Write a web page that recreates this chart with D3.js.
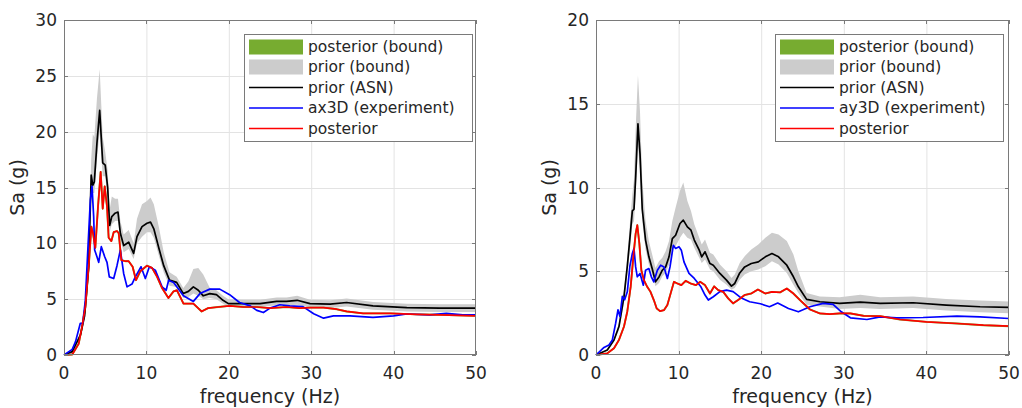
<!DOCTYPE html>
<html><head><meta charset="utf-8">
<script src="https://cdn.jsdelivr.net/npm/d3@7"></script>
<style>html,body{margin:0;padding:0;background:#fff;}svg{display:block;}</style>
</head><body>
<svg id="chart" width="1022" height="408"></svg>
<script>
// ---------- Left panel (x direction) ----------
const freqPriorL = [0,1,2,2.5,3,3.3,3.5,3.68,4.0,4.33,4.7,5.0,5.3,5.54,5.8,6.2,6.55,6.84,7.24,7.85,8.45,8.86,9.47,10.07,10.5,10.9,11.5,12.1,12.8,13.67,14.48,15.1,15.7,16.3,16.9,17.7,18.5,19.3,19.95,21.8,23.8,25.8,27.0,28.3,29.85,32.3,34.3,37.5,41.6,45.6,50];
const priorL   = [0,0.3,1.8,3.5,8,16.1,15.2,15.5,19,21.9,17.2,17.0,15,11.6,12.4,12.7,12.8,10.9,9.8,10.1,9.1,10.6,11.5,11.8,11.9,11.3,9.6,8.0,6.7,6.5,5.5,5.7,6.1,5.8,5.3,5.5,5.4,4.9,4.6,4.6,4.6,4.8,4.8,4.9,4.6,4.56,4.7,4.4,4.24,4.2,4.2];
const priorLoL = [0,0.25,1.6,3.2,7.2,15,14.5,14.5,17.5,20,16,16,14,11,11.7,12,12,10.3,9.2,9.5,8.6,10,10.6,11,11,10.5,8.9,7.4,6.2,6.1,5.1,5.2,5.5,5.3,5.0,5.1,5.0,4.6,4.3,4.3,4.3,4.45,4.45,4.5,4.25,4.2,4.35,4.05,3.9,3.85,3.85];
const priorHiL = [0,0.35,2.0,3.9,9,17.5,19.8,19.5,23,25.6,19.5,18.2,16.5,13,14.2,14,14,12,10.8,11.2,10,12.2,13.5,13.8,14.1,13.5,11.5,9.2,7.4,7.0,6.0,6.6,7.7,7.8,7.2,6.0,5.8,5.3,5.0,4.95,4.95,5.15,5.15,5.3,4.95,4.9,5.05,4.75,4.6,4.55,4.55];

const freqExpL = [0,1.0,1.4,1.98,2.27,2.59,2.91,3.2,3.4,3.6,3.72,4.0,4.21,4.53,4.94,5.22,5.5,6.03,6.43,6.84,7.24,7.65,8.25,8.66,9.35,9.87,10.36,11.08,11.9,12.4,12.7,13.3,14.5,15.7,16.5,17.7,18.9,20.1,21.3,22.6,23.4,24.2,25.0,26.2,27.4,29.0,30.3,31.5,32.7,34.7,37.5,40,41.6,44.4,46.4,48.4,50];
const expL     = [0,0.5,1.2,2.84,2.84,4.9,9.7,13.9,15.1,12.4,9.4,8.8,8.3,9.7,8.8,8.3,7.0,6.85,8.0,9.4,7.3,6.1,6.35,7.0,7.9,6.85,7.9,7.6,6.1,5.8,6.7,6.5,5.3,4.8,5.5,5.9,5.9,5.4,4.7,4.4,4.0,3.8,4.2,4.5,4.4,4.33,3.7,3.3,3.5,3.5,3.37,3.5,3.67,3.6,3.73,3.6,3.6];

const freqPostL = [0,1.0,1.78,2.18,2.59,3.0,3.32,3.52,3.8,4.13,4.45,4.7,4.94,5.22,5.42,5.75,6.03,6.43,6.64,6.96,7.45,7.85,8.33,8.74,9.26,10.07,10.68,11.3,11.9,12.67,13.3,13.7,14.5,15.7,16.7,17.5,18.7,20.1,21.8,23.4,25.0,27.0,28.6,29.9,31.5,33.1,34.3,36.3,39.6,42.8,45.6,50];
const postL     = [0,0.05,1.0,2.5,4.3,7.9,11.5,10.9,9.6,13.3,16.4,13.1,15.1,13.3,10.5,10.2,11.0,11.1,10.9,8.5,8.4,8.4,7.9,6.7,7.5,8.0,7.8,7.0,6.0,5.1,5.7,5.8,4.6,4.6,3.9,4.2,4.3,4.4,4.3,4.3,4.2,4.3,4.2,4.24,4.24,4.1,3.9,3.73,3.73,3.64,3.6,3.5];

// ---------- Right panel (y direction) ----------
const freqPriorR = [0,1.37,2.18,2.78,3.39,3.79,4.1,4.4,4.6,4.8,5.08,5.33,5.6,6.0,6.4,6.8,7.2,7.63,8.03,8.43,8.84,9.24,9.64,10.17,10.57,11.06,11.5,11.9,12.5,12.8,13.2,13.8,14.2,15.0,15.8,16.4,16.8,17.4,18.0,18.8,19.65,20.5,21.3,22.1,23.1,23.9,24.5,25.5,27.1,29.5,32.0,34.4,38.4,42.4,46.5,50];
const priorR   = [0,0.3,0.9,1.7,3.48,5.3,6.95,8.6,8.7,10.6,13.8,12.0,8.7,6.86,5.86,5.16,4.37,4.66,5.06,5.26,5.86,6.95,7.15,7.85,8.05,7.65,7.45,6.86,6.26,5.86,6.16,5.46,5.36,4.87,4.47,4.11,4.27,4.9,5.26,5.46,5.56,5.86,6.06,5.86,5.36,4.67,4.07,3.32,3.18,3.08,3.16,3.08,3.12,2.98,2.88,2.84];
const priorLoR = [0,0.25,0.8,1.5,3.1,4.8,6.3,7.8,8.0,9.5,12.5,11,8,6.3,5.4,4.8,4.1,4.3,4.7,4.9,5.4,6.3,6.5,7.0,7.3,7.0,6.9,6.4,5.8,5.5,5.7,5.1,5.0,4.5,4.2,3.9,4.0,4.5,4.8,5.0,5.1,5.3,5.6,5.4,4.9,4.2,3.7,3.0,2.9,2.75,2.8,2.75,2.8,2.65,2.55,2.5];
const priorHiR = [0,0.35,1.0,1.9,3.9,5.9,7.8,9.6,10.5,13.5,16.7,14.5,10.5,8.0,6.8,6.0,5.2,5.6,5.8,6.2,6.8,8.0,8.8,9.8,10.3,9.2,8.6,7.8,7.0,6.6,6.9,6.1,6.0,5.4,5.0,4.6,4.8,5.5,5.9,6.3,6.6,7.0,7.3,7.2,6.8,6.0,5.0,3.7,3.5,3.45,3.6,3.45,3.5,3.35,3.25,3.2];

const freqExpR = [0,0.97,1.57,1.98,2.38,2.66,2.9,3.19,3.47,3.79,4.1,4.4,4.6,4.8,5.0,5.33,5.73,6.0,6.4,6.7,7.0,7.43,7.83,8.23,8.64,8.96,9.36,9.64,10.05,10.33,10.65,11.26,11.9,12.7,13.2,13.6,14.2,15.0,15.8,16.6,17.6,18.6,19.9,21.0,22.0,23.3,24.5,25.9,27.5,28.7,29.7,30.8,32.8,34.4,36.4,39.6,43.7,46.5,50];
const expR     = [0,0.45,0.6,0.9,1.9,2.7,2.3,3.5,3.3,3.77,5.3,6.06,6.36,5.26,4.67,4.87,4.17,5.06,5.16,4.67,4.37,5.06,5.36,5.26,4.57,5.26,6.55,6.36,6.46,6.26,5.56,4.87,4.57,4.07,3.58,3.28,3.48,3.78,3.87,3.78,3.4,3.18,3.06,2.88,3.1,2.78,2.58,2.88,3.08,3.02,2.58,2.22,2.12,2.28,2.22,2.24,2.32,2.28,2.18];

const freqPostR = [0,1.37,2.18,2.78,3.39,3.79,4.2,4.52,4.8,5.0,5.25,5.49,5.8,6.2,6.6,7.0,7.35,7.75,8.23,8.64,9.04,9.44,9.85,10.33,10.85,11.46,12.1,12.6,13.2,13.8,14.3,14.8,15.4,16.0,16.6,17.2,18.0,18.8,19.6,20.5,21.3,22.3,23.1,23.9,24.9,25.9,27.1,28.3,29.5,30.8,32.4,34.4,36.8,40.0,43.7,46.9,50];
const postR     = [0,0.1,0.4,0.9,1.7,2.6,4.08,5.86,7.25,7.75,6.65,5.06,4.47,4.07,3.77,3.28,2.78,2.62,2.68,2.98,3.68,4.37,4.27,4.17,4.43,4.27,4.17,4.37,4.17,3.67,4.1,3.87,3.77,3.38,3.08,3.28,3.58,3.67,3.91,3.67,3.77,3.74,3.97,3.67,3.18,2.72,2.48,2.44,2.48,2.48,2.34,2.32,2.12,1.98,1.88,1.78,1.72];

// ---------- Ticks & labels ----------
const xTicks = [0,10,20,30,40,50];
const yTicksL = [0,5,10,15,20,25,30];
const yTicksR = [0,5,10,15,20];
const xLabel = "frequency (Hz)";
const yLabel = "Sa (g)";
const legendL = ["posterior (bound)","prior (bound)","prior (ASN)","ax3D (experiment)","posterior"];
const legendR = ["posterior (bound)","prior (bound)","prior (ASN)","ay3D (experiment)","posterior"];

const C = {green:"#77ac30", gray:"#cccccc", black:"#000000", blue:"#0000ff", red:"#ff0000", axis:"#7a7a7a", grid:"#e3e3e3", text:"#262626"};
const FONT = "DejaVu Sans, Liberation Sans, sans-serif";

const svg = d3.select("#chart");

function panel(o){
  const g = svg.append("g");
  const x = d3.scaleLinear().domain([0,50]).range([o.left,o.right]);
  const y = d3.scaleLinear().domain([0,o.ymax]).range([o.bottom,o.top]);

  // grid
  g.selectAll(".gx").data(xTicks.filter(t=>t>0&&t<50)).enter().append("line")
    .attr("x1",d=>x(d)+0.5).attr("x2",d=>x(d)+0.5).attr("y1",o.top).attr("y2",o.bottom)
    .attr("stroke",C.grid).attr("stroke-width",1);
  g.selectAll(".gy").data(o.yTicks.filter(t=>t>0&&t<o.ymax)).enter().append("line")
    .attr("y1",d=>Math.round(y(d))+0.5).attr("y2",d=>Math.round(y(d))+0.5).attr("x1",o.left).attr("x2",o.right)
    .attr("stroke",C.grid).attr("stroke-width",1);

  // prior bound
  const band = d3.area().x(d=>x(d[0])).y0(d=>y(d[1])).y1(d=>y(d[2]));
  g.append("path").datum(o.fp.map((f,i)=>[f,o.lo[i],o.hi[i]]))
    .attr("d",band).attr("fill",C.gray);

  const line = d3.line().x(d=>x(d[0])).y(d=>y(d[1]));
  const pts = (fs,vs)=>fs.map((f,i)=>[f,vs[i]]);
  // posterior bound (very narrow, lies under posterior line)
  g.append("path").datum(pts(o.fq,o.post)).attr("d",line).attr("fill","none")
    .attr("stroke",C.green).attr("stroke-width",1.9).attr("stroke-linejoin","round");
  g.append("path").datum(pts(o.fp,o.prior)).attr("d",line).attr("fill","none")
    .attr("stroke",C.black).attr("stroke-width",1.7).attr("stroke-linejoin","round");
  g.append("path").datum(pts(o.fe,o.exp)).attr("d",line).attr("fill","none")
    .attr("stroke",C.blue).attr("stroke-width",1.7).attr("stroke-linejoin","round");
  g.append("path").datum(pts(o.fq,o.post)).attr("d",line).attr("fill","none")
    .attr("stroke",C.red).attr("stroke-width",1.7).attr("stroke-linejoin","round");

  // box
  g.append("rect").attr("x",o.left+0.5).attr("y",o.top+0.5).attr("width",o.right-o.left-1).attr("height",o.bottom-o.top-1)
    .attr("fill","none").attr("stroke",C.axis).attr("stroke-width",1);
  // ticks (inward, all four sides)
  const tl = 4;
  xTicks.forEach(t=>{
    const xx = Math.round(x(t))+0.5;
    g.append("line").attr("x1",xx).attr("x2",xx).attr("y1",o.bottom).attr("y2",o.bottom-tl).attr("stroke",C.axis);
    g.append("line").attr("x1",xx).attr("x2",xx).attr("y1",o.top).attr("y2",o.top+tl).attr("stroke",C.axis);
    g.append("text").attr("x",x(t)).attr("y",o.bottom+24).attr("text-anchor","middle")
      .attr("font-family",FONT).attr("font-size",17).attr("fill",C.text).text(t);
  });
  o.yTicks.forEach(t=>{
    const yy = Math.round(y(t))+0.5;
    g.append("line").attr("y1",yy).attr("y2",yy).attr("x1",o.left).attr("x2",o.left+tl).attr("stroke",C.axis);
    g.append("line").attr("y1",yy).attr("y2",yy).attr("x1",o.right).attr("x2",o.right-tl).attr("stroke",C.axis);
    g.append("text").attr("x",o.left-7).attr("y",y(t)).attr("dy","0.36em").attr("text-anchor","end")
      .attr("font-family",FONT).attr("font-size",17).attr("fill",C.text).text(t);
  });
  // axis labels
  g.append("text").attr("x",(o.left+o.right)/2).attr("y",o.bottom+48).attr("text-anchor","middle")
    .attr("font-family",FONT).attr("font-size",19).attr("fill",C.text).text(xLabel);
  g.append("text").attr("transform",`translate(${o.left-40},${(o.top+o.bottom)/2}) rotate(-90)`).attr("text-anchor","middle")
    .attr("font-family",FONT).attr("font-size",19).attr("fill",C.text).text(yLabel);

  // legend
  const lg = g.append("g");
  lg.append("rect").attr("x",o.lx+0.5).attr("y",34.5).attr("width",o.lw).attr("height",107)
    .attr("fill","#fff").attr("stroke",C.axis).attr("stroke-width",1);
  const rows = [47,67,87.5,108,128.5];
  const sx0 = o.lx+5, sx1 = o.lx+59;
  o.legend.forEach((s,i)=>{
    const cy = rows[i];
    if(i<2){
      lg.append("rect").attr("x",sx0).attr("y",cy-7.5).attr("width",sx1-sx0).attr("height",15)
        .attr("fill",i===0?C.green:C.gray);
    } else {
      lg.append("line").attr("x1",sx0).attr("x2",sx1).attr("y1",cy).attr("y2",cy)
        .attr("stroke",[C.black,C.blue,C.red][i-2]).attr("stroke-width",1.7);
    }
    lg.append("text").attr("x",o.lx+64).attr("y",cy).attr("dy","0.35em")
      .attr("font-family",FONT).attr("font-size",15.5).attr("fill",C.text).text(s);
  });
}

panel({left:64,right:476,top:20,bottom:355,ymax:30,yTicks:yTicksL,
  fp:freqPriorL,prior:priorL,lo:priorLoL,hi:priorHiL,fe:freqExpL,exp:expL,fq:freqPostL,post:postL,
  legend:legendL,lx:244,lw:228});
panel({left:596,right:1009,top:20,bottom:355,ymax:20,yTicks:yTicksR,
  fp:freqPriorR,prior:priorR,lo:priorLoR,hi:priorHiR,fe:freqExpR,exp:expR,fq:freqPostR,post:postR,
  legend:legendR,lx:775,lw:228});
</script>
</body></html>
